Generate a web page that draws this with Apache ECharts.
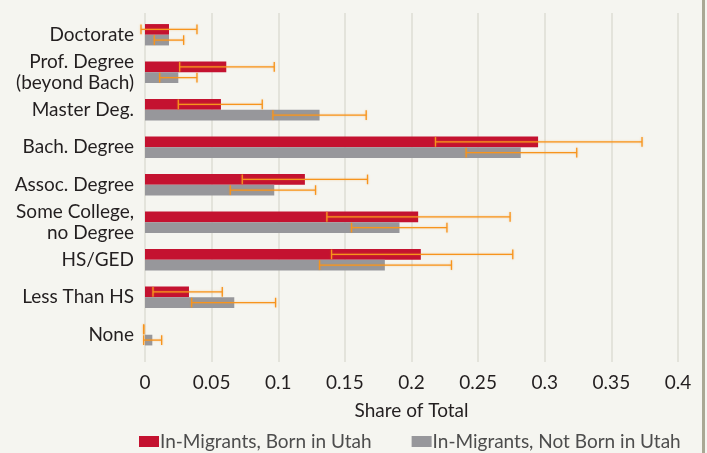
<!DOCTYPE html>
<html><head><meta charset="utf-8">
<script src="https://cdn.jsdelivr.net/npm/echarts@6/dist/echarts.min.js"></script>
<style>html,body{margin:0;padding:0;background:#f5f5f0}#c{width:707px;height:453px}</style>
</head><body><div id="c"></div>
<script>
const categories = ["Doctorate","Prof. Degree\n(beyond Bach)","Master Deg.","Bach. Degree","Assoc. Degree","Some College,\nno Degree","HS/GED","Less Than HS","None"];
const bornUtah = [0.018,0.061,0.057,0.295,0.120,0.205,0.207,0.033,0.0];
const notBornUtah = [0.018,0.025,0.131,0.282,0.097,0.191,0.180,0.067,0.0055];
const bornLow  = [-0.003,0.026,0.025,0.218,0.073,0.1365,0.140,0.006,-0.001];
const bornHigh = [0.039,0.097,0.088,0.373,0.167,0.274,0.276,0.058,-0.001];
const notLow   = [0.007,0.011,0.096,0.241,0.064,0.155,0.131,0.035,-0.001];
const notHigh  = [0.029,0.039,0.166,0.324,0.128,0.2266,0.230,0.098,0.0125];
const xTicks = [0,0.05,0.1,0.15,0.2,0.25,0.3,0.35,0.4];

const FONT = 'Lato';
const FS = 19;
const BAR = 0.285;
const chart = echarts.init(document.getElementById('c'));
function errSeries(low, high, side) {
  return {
    type: 'custom',
    silent: true,
    xAxisIndex: 1, yAxisIndex: 1,
    z: 5,
    data: low.map((l, i) => [i, l, high[i]]),
    encode: { x: [1, 2], y: 0 },
    renderItem: function (params, api) {
      const i = api.value(0);
      const band = api.size([0, 1])[1];
      const bw = band * BAR;
      const p1 = api.coord([api.value(1), i]);
      const p2 = api.coord([api.value(2), i]);
      const y = p1[1] + side * bw / 2;
      const h = bw * 0.45;
      const st = { stroke: '#f7941d', lineWidth: 1.3, shadowColor: 'rgba(247,148,29,0.45)', shadowBlur: 2 };
      return { type: 'group', children: [
        { type: 'line', shape: { x1: p1[0], y1: y, x2: p2[0], y2: y }, style: st },
        { type: 'line', shape: { x1: p1[0], y1: y - h, x2: p1[0], y2: y + h }, style: st },
        { type: 'line', shape: { x1: p2[0], y1: y - h, x2: p2[0], y2: y + h }, style: st }
      ]};
    }
  };
}
chart.setOption({
  backgroundColor: '#f5f5f0',
  animation: false,
  textStyle: { fontFamily: FONT },
  grid: [
    { left: 145, right: 29, top: 13, bottom: 91, containLabel: false },
    { left: 145, right: 29, top: 16, bottom: 99.5, containLabel: false }
  ],
  legend: {
    top: 427, left: 134, itemWidth: 20, itemHeight: 11, itemGap: 40,
    icon: 'rect',
    textStyle: { fontFamily: FONT, fontSize: FS, color: '#4d4d4d', padding: [0,0,0,-4] },
    data: ['In-Migrants, Born in Utah', 'In-Migrants, Not Born in Utah']
  },
  xAxis: [{
    type: 'value', gridIndex: 0, min: 0, max: 0.4, interval: 0.05,
    name: 'Share of Total', nameLocation: 'middle', nameGap: 39,
    nameTextStyle: { fontFamily: FONT, fontSize: FS, color: '#231f20' },
    axisLine: { show: false }, axisTick: { show: false },
    axisLabel: { fontFamily: FONT, fontSize: FS, color: '#231f20', margin: 11,
      formatter: v => { const t = xTicks.find(x => Math.abs(x - v) < 1e-9); return t === undefined ? '' : String(t); } },
    splitLine: { lineStyle: { color: '#dcdcd5', width: 1.5 } }
  }, {
    type: 'value', gridIndex: 1, min: 0, max: 0.4, interval: 0.05, show: false,
    splitLine: { show: false }
  }],
  yAxis: [{
    type: 'category', gridIndex: 0, show: false, data: categories
  }, {
    type: 'category', gridIndex: 1, inverse: true, data: categories,
    axisLine: { show: false }, axisTick: { show: false },
    axisLabel: { fontFamily: FONT, fontSize: FS, color: '#231f20', margin: 11, lineHeight: 21 }
  }],
  series: [
    { name: 'In-Migrants, Born in Utah', type: 'bar', xAxisIndex: 1, yAxisIndex: 1, data: bornUtah, barWidth: (BAR*100)+'%', barGap: '0%', itemStyle: { color: '#c41230' } },
    { name: 'In-Migrants, Not Born in Utah', type: 'bar', xAxisIndex: 1, yAxisIndex: 1, data: notBornUtah, barWidth: (BAR*100)+'%', barGap: '0%', itemStyle: { color: '#97979b' } },
    errSeries(bornLow, bornHigh, -1),
    errSeries(notLow, notHigh, 1)
  ],
  graphic: [{ type: 'rect', shape: { x: 702, y: 0, width: 3, height: 453 }, style: { fill: '#a9a894' } }]
});
</script></body></html>
